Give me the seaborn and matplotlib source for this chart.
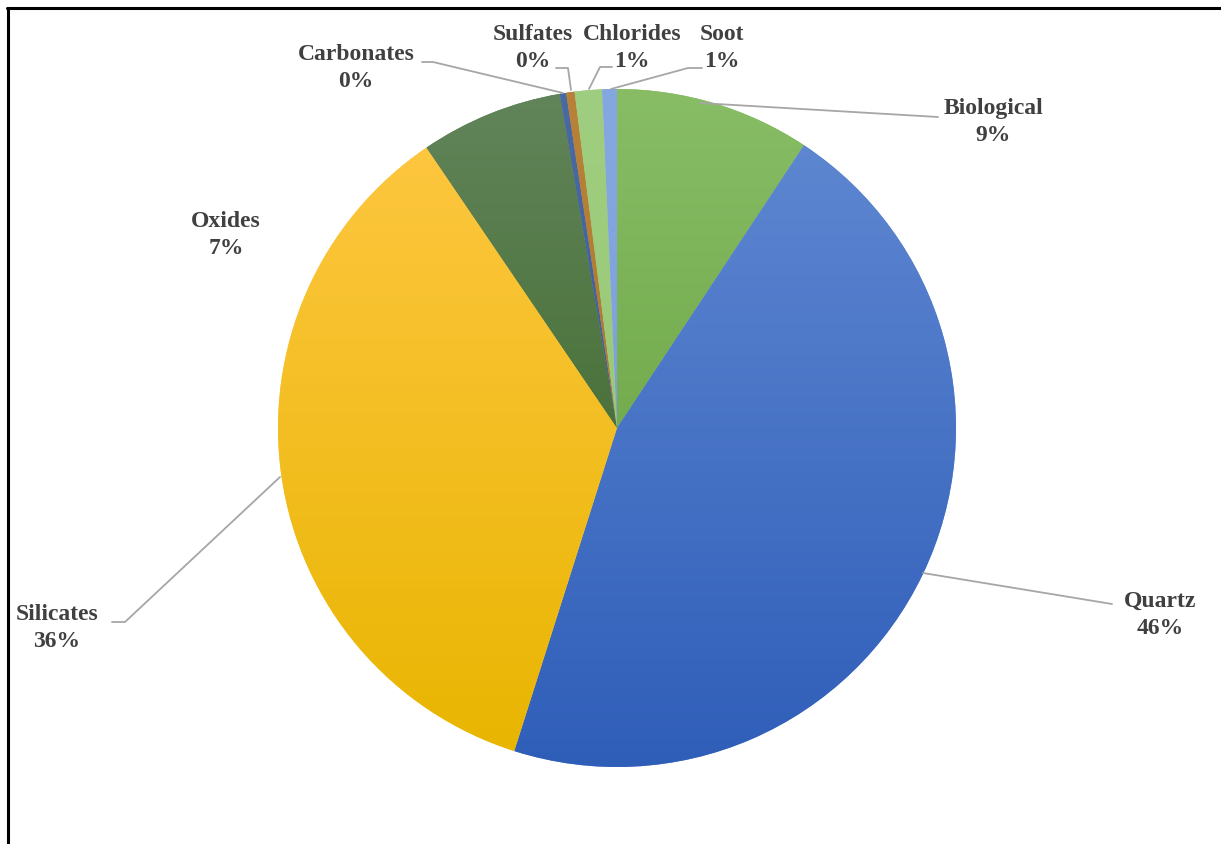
import matplotlib
matplotlib.use("Agg")
import matplotlib.pyplot as plt
import matplotlib.colors as mcolors
import numpy as np
import seaborn as sns

sns.set_theme(style="white")
plt.rcParams['font.family'] = ['Liberation Serif', 'DejaVu Serif']

# ---- data ----
categories = ["Biological", "Quartz", "Silicates", "Oxides",
              "Carbonates", "Sulfates", "Chlorides", "Soot"]
values = [9.3, 45.6, 35.6, 6.8, 0.3, 0.4, 1.3, 0.7]

# gradient colours (top, bottom) per slice
top_colors = ["#88BD66", "#628AD3", "#FFC845", "#62845A",
              "#4A6AA4", "#B8823A", "#A0CE80", "#86A8E2"]
bottom_colors = ["#5E9A35", "#2F5EB9", "#E8B500", "#33601C",
                 "#38558C", "#A47028", "#93C56F", "#7598D8"]

# ---- layout (pixels of the 1221x844 image) ----
W, H = 1221, 844
cx, cy, R = 617, 428, 339
# label block centres (px)
label_pos = [(993, 122), (1160, 615), (57, 628), (226, 235),
             (356, 68), (533, 48), (632, 48), (722, 48)]
# leader lines (px), None = no line
leaders = [
    [(700, 103), (938, 117)],
    [(923, 573), (1112, 604)],
    [(280, 477), (125, 622), (112, 622)],
    None,
    [(563, 93), (433, 62), (422, 62)],
    [(571, 90), (568, 68), (556, 68)],
    [(589, 89), (600, 67), (612, 67)],
    [(611, 89), (688, 68), (702, 68)],
]


def to_data(p):
    return ((p[0] - cx) / R, (cy - p[1]) / R)


fig = plt.figure(figsize=(W / 100, H / 100), dpi=100)
ax = fig.add_axes([(cx - R) / W, (H - cy - R) / H, 2 * R / W, 2 * R / H])

wedges, _ = ax.pie(values, startangle=90, counterclock=False,
                   colors=top_colors, radius=1,
                   wedgeprops=dict(linewidth=0))

# vertical gradient fill clipped to each wedge
for w, ct, cb in zip(wedges, top_colors, bottom_colors):
    t = np.array(mcolors.to_rgb(ct))
    b = np.array(mcolors.to_rgb(cb))
    f = np.linspace(0, 1, 256)[:, None]
    grad = (t[None, :] * (1 - f) + b[None, :] * f)[:, None, :]
    im = ax.imshow(grad, extent=[-1, 1, -1, 1], aspect='auto',
                   interpolation='bilinear', zorder=w.get_zorder() + 0.1)
    im.set_clip_path(w)

ax.set_xlim(-1, 1)
ax.set_ylim(-1, 1)
ax.set_aspect('equal')
ax.axis('off')

for cat, v, pos, ld in zip(categories, values, label_pos, leaders):
    x, y = to_data(pos)
    ax.text(x, y, f"{cat}\n{v:.0f}%", ha='center', va='center',
            multialignment='center', fontsize=17, fontweight='bold',
            color='#404040', linespacing=1.4, clip_on=False)
    if ld:
        pts = np.array([to_data(p) for p in ld])
        ax.plot(pts[:, 0], pts[:, 1], color='#A6A6A6', lw=1.3,
                clip_on=False, zorder=5)

# outer frame (top and left visible)
fig.add_artist(plt.Line2D([8 / W, 8 / W], [0, 1 - 7.5 / H],
                          color='black', lw=2.2, transform=fig.transFigure))
fig.add_artist(plt.Line2D([7 / W, 1], [1 - 7.5 / H, 1 - 7.5 / H],
                          color='black', lw=2.2, transform=fig.transFigure))

fig.savefig("out.png", dpi=100, facecolor='white')
